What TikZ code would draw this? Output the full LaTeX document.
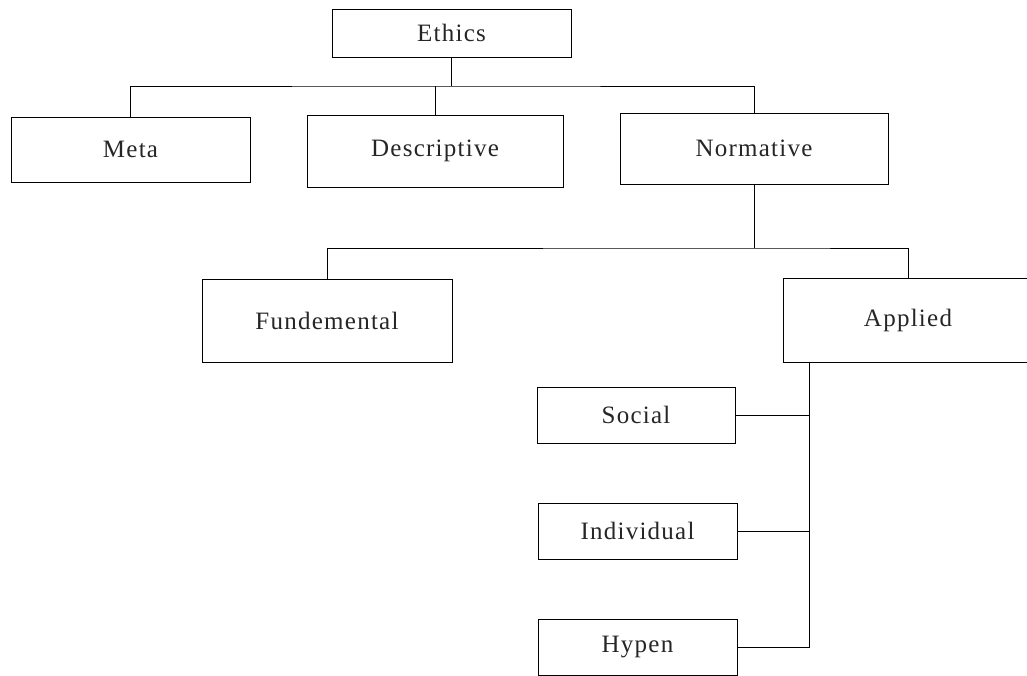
\documentclass[tikz,border=0pt]{standalone}
\usepackage{fontspec}
\setmainfont{Liberation Serif}[LetterSpace=5.0]
\begin{document}
\begin{tikzpicture}[x=1pt,y=1pt,
  box/.style={draw=black,line width=1pt,inner sep=0pt,font=\fontsize{25}{30}\selectfont,text=black!85},
  conn/.style={draw=black,line width=1pt}]
\useasboundingbox (0,0) rectangle (1027,-675);
\clip (0,0) rectangle (1027,-675);
% nodes
\node[box,minimum width=239pt,minimum height=48pt] (ethics) at (451.5,-33) {Ethics};
\node[box,minimum width=239pt,minimum height=65pt] (meta) at (130.5,-149.5) {Meta};
\node[box,minimum width=256pt,minimum height=72pt] (desc) at (435,-151) {Descriptive};
\node[box,minimum width=268pt,minimum height=71pt] (norm) at (754,-148.5) {Normative};
\node[box,minimum width=250pt,minimum height=83pt] (fund) at (327,-320.5) {Fundemental};
\node[box,minimum width=250pt,minimum height=84pt] (appl) at (908,-320) {Applied};
\node[box,minimum width=198pt,minimum height=56pt] (social) at (636,-415) {Social};
\node[box,minimum width=199pt,minimum height=56pt] (indiv) at (637.5,-531) {Individual};
\node[box,minimum width=199pt,minimum height=56pt] (hypen) at (637.5,-647) {Hypen};
% junction coordinates
\coordinate (bus1) at (450,-86);
\coordinate (bus2) at (754,-248);
\coordinate (spine) at (809,-362);
% connectors
\draw[conn] (ethics.south) -- (ethics.south |- bus1);
\draw[conn] (meta.north) |- (bus1) -| (norm.north);
\draw[conn] (desc.north) -- (desc.north |- bus1);
\draw[conn] (norm.south) -- (bus2);
\draw[conn] (fund.north) |- (bus2) -| (appl.north);
\draw[conn] (spine) |- (hypen.east);
\draw[conn] (social.east) -- (social.east -| spine);
\draw[conn] (indiv.east) -- (indiv.east -| spine);
\end{tikzpicture}
\end{document}
